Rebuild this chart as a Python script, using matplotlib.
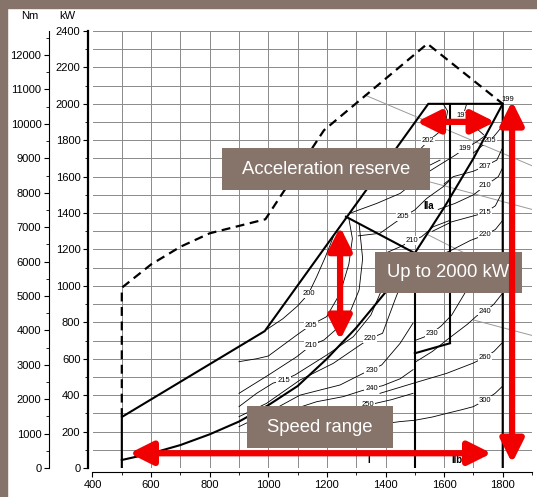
import matplotlib.pyplot as plt
from matplotlib.patches import Rectangle, FancyArrowPatch
from matplotlib.ticker import MultipleLocator

plt.rcParams['font.family'] = ['Liberation Sans', 'DejaVu Sans']

# engine speed (rpm) / power (kW)
env = [(500, 0), (500, 280), (988, 752), (1546, 2000), (1800, 2000), (1800, 0)]
overload = [(500, 280), (500, 990), (600, 1118), (700, 1215), (800, 1289),
            (990, 1366), (1190, 1855), (1543, 2330), (1800, 2000)]
prop_rpm = [500, 600, 700, 800, 900, 1000, 1100, 1200, 1300, 1400, 1500, 1600, 1700, 1800]
prop_kw = [44, 80, 126, 185, 255, 345, 450, 600, 770, 965, 1180, 1430, 1700, 2000]
apex = [(1265, 1380), (1500, 1180)]
v1500 = [(1500, 0), (1500, 1180)]
v1620 = [(1620, 685), (1620, 2000)]
link = [(1500, 630), (1620, 685)]

# fuel consumption iso-lines (g/kWh)
c200 = [(994, 760), (1050, 820), (1100, 890), (1137, 956), (1165, 1050), (1195, 1160), (1222, 1270)]
c205 = [(900, 584), (960, 600), (1000, 615), (1097, 730), (1145, 785), (1199, 831), (1245, 959),
        (1275, 1120), (1287, 1260), (1275, 1370)]
c210 = [(900, 410), (1000, 510), (1097, 611), (1145, 672), (1190, 703), (1268, 813), (1310, 978),
        (1322, 1150), (1310, 1340)]
c215 = [(900, 337), (960, 410), (1016, 466), (1052, 483), (1091, 511), (1199, 620), (1290, 721),
        (1350, 840), (1390, 990), (1420, 1120)]
c220 = [(900, 282), (994, 355), (1108, 483), (1222, 575), (1313, 675), (1348, 712), (1390, 740),
        (1432, 922), (1470, 1080)]
c230 = [(900, 227), (994, 300), (1108, 400), (1245, 456), (1324, 520), (1352, 538), (1387, 566),
        (1450, 685), (1494, 796)]
c240 = [(1100, 330), (1165, 364), (1256, 392), (1320, 425), (1352, 438), (1390, 452), (1450, 490),
        (1494, 540)]
c250 = [(1150, 280), (1250, 310), (1341, 346), (1420, 375), (1494, 410)]
c230r = [(1500, 700), (1530, 718), (1558, 740), (1590, 780), (1626, 840), (1677, 977), (1710, 1090)]
c240r = [(1500, 580), (1560, 640), (1609, 703), (1680, 790), (1711, 835), (1740, 858), (1770, 900),
         (1800, 961)]
c260r = [(1381, 410), (1494, 465), (1609, 520), (1699, 576), (1740, 608), (1770, 640), (1800, 690)]
c300r = [(1380, 240), (1450, 255), (1500, 262), (1560, 280), (1609, 300), (1660, 320), (1700, 337),
         (1740, 373), (1774, 410), (1800, 450)]
c220r = [(1560, 1150), (1626, 1197), (1690, 1250), (1740, 1280), (1775, 1310), (1800, 1360)]
c215r = [(1560, 1300), (1626, 1352), (1690, 1380), (1740, 1402), (1775, 1440), (1800, 1520)]
c210r = [(1580, 1420), (1637, 1453), (1700, 1500), (1740, 1550), (1785, 1600), (1800, 1650)]
c207r = [(1600, 1560), (1631, 1600), (1700, 1630), (1740, 1658), (1780, 1691), (1800, 1760)]
c205r = [(1700, 1730), (1730, 1770), (1757, 1796), (1790, 1860)]
c199 = [(1480, 1560), (1540, 1620), (1600, 1680), (1640, 1720), (1671, 1755), (1710, 1790), (1745, 1830)]
c197 = [(1677, 2000), (1665, 1935), (1700, 1880), (1735, 1830)]
c202 = [(1440, 1620), (1500, 1720), (1546, 1796), (1580, 1840), (1605, 1900), (1612, 1960), (1597, 2000)]
c205b = [(1307, 1275), (1381, 1289), (1461, 1380), (1500, 1417), (1541, 1481), (1597, 1545), (1620, 1580)]
c210b = [(1400, 1180), (1450, 1215), (1490, 1248), (1523, 1270), (1563, 1325), (1620, 1360)]
c_top = [(1280, 1400), (1370, 1453), (1450, 1508), (1500, 1572), (1541, 1655), (1586, 1691)]
contours = [c200, c205, c210, c215, c220, c230, c240, c250, c230r, c240r, c260r, c300r,
            c220r, c215r, c210r, c207r, c205r, c199, c197, c202, c205b, c210b, c_top]

lab_text = ['200', '205', '210', '215', '220', '230', '240', '250', '205', '210', '202', '197',
            '199', '205', '207', '210', '215', '220', '230', '240', '260', '300']
lab_rpm = [1137, 1145, 1145, 1052, 1348, 1352, 1352, 1341, 1461, 1490, 1546, 1665,
           1671, 1757, 1740, 1740, 1740, 1740, 1558, 1740, 1740, 1740]
lab_kw = [956, 785, 672, 483, 712, 538, 438, 350, 1380, 1248, 1796, 1935,
          1755, 1796, 1658, 1550, 1402, 1280, 740, 858, 608, 373]

gray_lines = [[(1330, 2048), (1900, 1660)], [(1450, 1615), (1900, 1420)],
              [(1546, 1280), (1626, 1215), (1760, 1110)], [(1700, 813), (1900, 728)]]

# annotation boxes: (x0, x1, y0, y1, text)
box_x0 = [842, 1364, 927]
box_x1 = [1552, 1866, 1426]
box_y0 = [1526, 961, 110]
box_y1 = [1757, 1186, 340]
box_text = ['Acceleration reserve', 'Up to 2000 kW', 'Speed range']

# red arrows
arr_x0 = [526, 1832, 1506, 1245]
arr_y0 = [81, 27, 1901, 703]
arr_x1 = [1762, 1832, 1774, 1245]
arr_y1 = [81, 2015, 1901, 1325]

brown = '#86736a'

fig = plt.figure(figsize=(5.37, 4.97), dpi=100)
fig.patches.append(Rectangle((0, 1 - 8 / 497), 1, 8 / 497, transform=fig.transFigure,
                             color=brown, zorder=0))
fig.patches.append(Rectangle((0, 0), 7 / 537, 1, transform=fig.transFigure, color=brown, zorder=0))

ax = fig.add_axes([92.5 / 537, 1 - 468 / 497, (532 - 92.5) / 537, 437 / 497])
ax.set_xlim(400, 1900)
ax.set_ylim(0, 2400)
ax.xaxis.set_major_locator(MultipleLocator(200))
ax.xaxis.set_minor_locator(MultipleLocator(100))
ax.yaxis.set_major_locator(MultipleLocator(200))
ax.yaxis.set_minor_locator(MultipleLocator(100))
ax.set_xticks(range(400, 1801, 200))
ax.grid(which='both', color='#8a8a8a', lw=0.7)
ax.set_axisbelow(True)
for s in ['top', 'right']:
    ax.spines[s].set_visible(False)
ax.spines['left'].set_position(('outward', 3.2))
ax.spines['bottom'].set_position(('outward', 3))
ax.spines['left'].set_linewidth(1.6)
ax.tick_params(labelsize=8, length=3.5, width=0.8, pad=2)
ax.tick_params(which='minor', length=2, width=0.6)

# Nm axis on the far left
ax2 = ax.twinx()
ax2.set_ylim(0, 12700)
ax2.yaxis.set_major_locator(MultipleLocator(1000))
ax2.yaxis.set_minor_locator(MultipleLocator(500))
ax2.yaxis.tick_left()
for s in ['top', 'right', 'bottom']:
    ax2.spines[s].set_visible(False)
ax2.spines['left'].set_visible(True)
ax2.spines['left'].set_position(('outward', 31.3))
ax2.tick_params(labelsize=8, length=3.5, width=0.8, pad=2)
ax2.tick_params(which='minor', length=2, width=0.6)

fig.text(30 / 537, 1 - 16 / 497, 'Nm', fontsize=8, ha='center', va='center')
fig.text(67 / 537, 1 - 16 / 497, 'kW', fontsize=8, ha='center', va='center')

for g in gray_lines:
    ax.plot([p[0] for p in g], [p[1] for p in g], color='#9a9a9a', lw=0.7, zorder=1.5)

for c in contours:
    ax.plot([p[0] for p in c], [p[1] for p in c], color='black', lw=0.6, zorder=2)

for t, x, y in zip(lab_text, lab_rpm, lab_kw):
    ax.text(x, y, t, fontsize=5.5, ha='center', va='center', zorder=3,
            bbox=dict(facecolor='white', edgecolor='none', pad=0.6))
ax.text(1816, 2026, '199', fontsize=5.5, ha='center', va='center', zorder=3)

ax.plot([p[0] for p in overload], [p[1] for p in overload], color='black', lw=1.6,
        dashes=(4, 2.5), zorder=4)
for seg in [env, apex, v1500, v1620, link]:
    ax.plot([p[0] for p in seg], [p[1] for p in seg], color='black', lw=1.5, zorder=4)
ax.plot(prop_rpm, prop_kw, color='black', lw=1.5, zorder=4)

ax.text(1546, 1440, 'IIa', fontsize=7, fontweight='bold', ha='center', va='center', zorder=3)
ax.text(1643, 44, 'IIb', fontsize=7, fontweight='bold', ha='center', va='center', zorder=3)
ax.text(1341, 44, 'I', fontsize=7, fontweight='bold', ha='center', va='center', zorder=3)

for x0, x1, y0, y1, t in zip(box_x0, box_x1, box_y0, box_y1, box_text):
    ax.add_patch(Rectangle((x0, y0), x1 - x0, y1 - y0, facecolor=brown, edgecolor='none',
                           zorder=5))
    ax.text((x0 + x1) / 2, (y0 + y1) / 2, t, color='white', fontsize=13.3,
            ha='center', va='center', zorder=6, clip_on=True)

for x0, y0, x1, y1 in zip(arr_x0, arr_y0, arr_x1, arr_y1):
    ax.add_patch(FancyArrowPatch((x0, y0), (x1, y1), arrowstyle='<|-|>,head_length=1.4,head_width=0.7',
                                 mutation_scale=10, color='#f00000', lw=4.5, shrinkA=0, shrinkB=0,
                                 zorder=7, clip_on=False))

fig.savefig('out.png', dpi=100)
